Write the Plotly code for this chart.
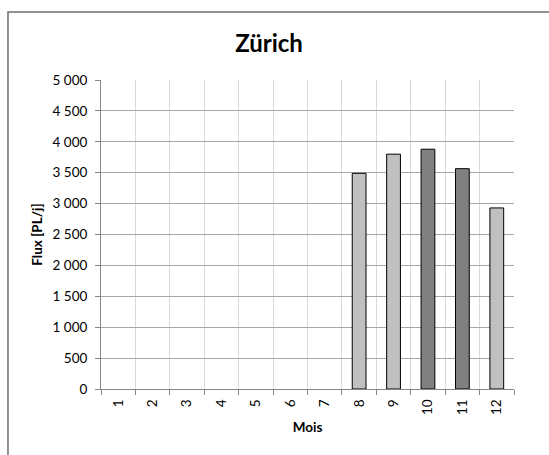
import plotly.graph_objects as go

months = list(range(1, 13))
month_labels = [str(m) for m in months]
flux = [None, None, None, None, None, None, None, 3490, 3800, 3880, 3565, 2930]
bar_colors = ["#c0c0c0"] * 9 + ["#808080", "#808080", "#c0c0c0"]
y_ticks = list(range(0, 5001, 500))

FONT = "Lato, 'Liberation Sans', sans-serif"

fig = go.Figure()
fig.add_trace(go.Bar(
    x=months, y=flux,
    marker=dict(color=bar_colors, line=dict(color="#000000", width=1)),
    width=0.4,
    showlegend=False,
))

fig.update_layout(
    width=549, height=455,
    margin=dict(l=101, r=35, t=80, b=66),
    paper_bgcolor="white", plot_bgcolor="white",
    separators=", ",
    font=dict(family=FONT, size=13.5, color="#000000"),
    title=dict(text="<b>Zürich</b>", x=0.49, xanchor="center", y=0.905, yanchor="middle",
               font=dict(size=24, family=FONT, color="#000000")),
    bargap=0.6,
)

fig.update_xaxes(
    range=[0.5, 12.5],
    tickmode="array", tickvals=months, ticktext=month_labels,
    tickangle=-90, ticks="", showgrid=False,
    showline=True, linecolor="#868686", linewidth=1,
    minor=dict(tickmode="array", tickvals=[m + 0.5 for m in range(0, 13)],
               showgrid=True, gridcolor="#d9d9d9", gridwidth=1,
               ticks="outside", ticklen=5, tickcolor="#868686"),
    title=dict(text="<b>Mois</b>", font=dict(size=13.5), standoff=8),
    tickfont=dict(size=13.5),
    ticklabelstandoff=4,
    zeroline=False,
)

fig.update_yaxes(
    range=[0, 5000],
    tickmode="array", tickvals=y_ticks, tickformat=",d",
    showgrid=True, gridcolor="#a6a6a6", gridwidth=1,
    ticks="outside", ticklen=5, tickcolor="#868686",
    showline=True, linecolor="#868686", linewidth=1,
    zeroline=False,
    title=dict(text="<b>Flux [PL/j]</b>", font=dict(size=13.5), standoff=6),
    tickfont=dict(size=13.5),
    ticklabelstandoff=5,
)

# outer chart frame (top and left visible)
fig.add_shape(type="rect", xref="paper", yref="paper",
              x0=-0.2252, x1=1.3, y0=-0.5, y1=1.2201,
              line=dict(color="#6e6e6e", width=1.5), fillcolor="rgba(0,0,0,0)", layer="below")

fig.write_html("out.html", config={"displayModeBar": False},
               post_script="document.body.style.margin='0';document.body.style.overflow='hidden';")
